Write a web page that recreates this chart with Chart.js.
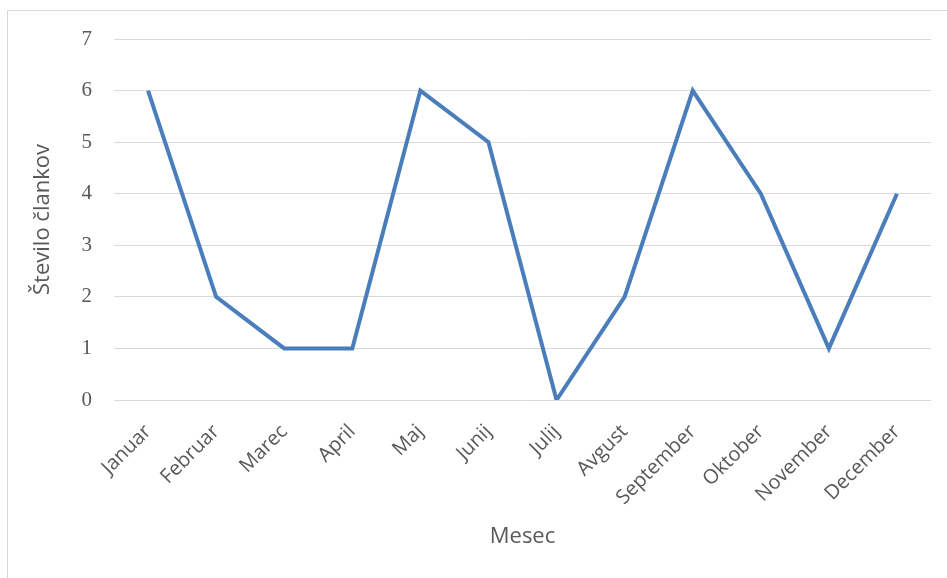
<!DOCTYPE html>
<html>
<head>
<meta charset="utf-8">
<script src="https://cdn.jsdelivr.net/npm/chart.js@4.4.1/dist/chart.umd.min.js"></script>
<style>
html,body{margin:0;padding:0;background:#fff;}
#wrap{position:relative;width:947px;height:578px;}
</style>
</head>
<body>
<div id="wrap"><canvas id="c" width="947" height="578"></canvas></div>
<script>
const months = ['Januar','Februar','Marec','April','Maj','Junij','Julij','Avgust','September','Oktober','November','December'];
const articles = [6, 2, 1, 1, 6, 5, 0, 2, 6, 4, 1, 4];
const yTicks = [0, 1, 2, 3, 4, 5, 6, 7];
const yTitle = 'Število člankov';
const xTitle = 'Mesec';

const borderPlugin = {
  id: 'border',
  beforeDraw(chart) {
    const ctx = chart.ctx;
    ctx.save();
    ctx.fillStyle = '#fff';
    ctx.fillRect(0, 0, chart.width, chart.height);
    ctx.strokeStyle = '#d9d9d9';
    ctx.lineWidth = 1;
    ctx.strokeRect(7.5, 10.5, 950, 600);
    ctx.restore();
  }
};

new Chart(document.getElementById('c'), {
  type: 'line',
  data: {
    labels: months,
    datasets: [{
      data: articles,
      borderColor: '#4A7EBB',
      borderWidth: 4,
      pointRadius: 0,
      pointHoverRadius: 0,
      fill: false,
      tension: 0,
      borderJoinStyle: 'miter'
    }]
  },
  options: {
    responsive: false,
    animation: false,
    events: [],
    layout: { padding: { left: 0, right: 16, top: 39, bottom: 0 } },
    plugins: { legend: { display: false }, tooltip: { enabled: false } },
    scales: {
      x: {
        offset: true,
        grid: { display: false, drawTicks: false },
        border: { display: false },
        ticks: {
          autoSkip: false,
          maxRotation: 45,
          minRotation: 45,
          padding: 20,
          color: '#595959',
          font: { family: 'Open Sans', size: 20 }
        },
        title: {
          display: true,
          text: xTitle,
          color: '#595959',
          font: { family: 'Open Sans', size: 22 },
          padding: { top: 0, bottom: 28 }
        },
        afterFit(scale) { scale.height = 578 - 400; }
      },
      y: {
        min: 0,
        max: 7,
        afterBuildTicks(scale) { scale.ticks = yTicks.map(v => ({ value: v })); },
        grid: { color: '#d9d9d9', lineWidth: 1, drawTicks: false },
        border: { display: false },
        ticks: {
          padding: 22,
          color: '#595959',
          font: { family: 'Liberation Serif', size: 21 }
        },
        title: {
          display: true,
          text: yTitle,
          color: '#595959',
          font: { family: 'Open Sans', size: 22 },
          padding: { top: 30, bottom: 0 }
        },
        afterFit(scale) { scale.width = 114; }
      }
    }
  },
  plugins: [borderPlugin]
});
</script>
</body>
</html>
